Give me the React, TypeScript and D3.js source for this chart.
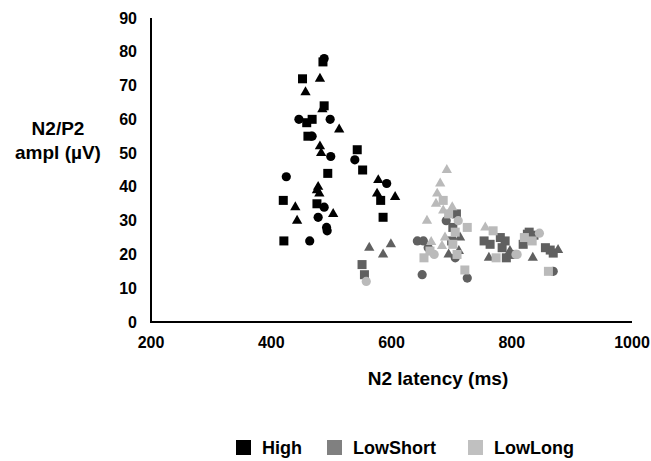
import * as d3 from 'd3';
import * as React from 'react';

type Shape = 'c' | 's' | 't';
type Pt = [number, number, Shape];

// N2 latency (ms), N2/P2 amplitude (µV), marker shape
const highPoints: Pt[] = [
    [488, 78, 'c'], [486, 77, 's'], [452, 72, 's'], [481, 72, 't'], [457, 68, 't'],
    [488, 64, 's'], [485, 63, 't'], [446, 60, 'c'], [468, 60, 's'], [459, 59, 's'],
    [498, 60, 'c'], [513, 57, 't'], [461, 55, 's'], [468, 55, 'c'], [481, 52, 't'],
    [483, 50, 't'], [499, 49, 'c'], [543, 51, 's'], [539, 48, 'c'], [552, 45, 's'],
    [425, 43, 'c'], [494, 44, 's'], [578, 42, 't'], [592, 41, 'c'], [576, 38, 't'],
    [582, 36, 's'], [606, 37, 't'], [586, 31, 's'], [478, 40, 't'], [476, 39, 't'],
    [480, 38, 't'], [420, 36, 's'], [440, 34, 't'], [476, 35, 's'], [488, 34, 'c'],
    [503, 32, 't'], [443, 30, 't'], [478, 31, 'c'], [492, 28, 'c'], [493, 27, 'c'],
    [421, 24, 's'], [464, 24, 'c'],
];

const lowShortPoints: Pt[] = [
    [563, 22, 't'], [599, 23, 't'], [586, 20, 't'], [551, 17, 's'], [555, 14, 's'],
    [708, 32, 's'], [691, 30, 'c'], [702, 28, 's'], [714, 25, 't'], [643, 24, 'c'],
    [653, 24, 'c'], [661, 22, 'c'], [706, 19, 'c'], [651, 14, 'c'], [726, 13, 'c'],
    [712, 21, 't'], [754, 24, 's'], [764, 23, 's'], [762, 19, 't'], [781, 25, 's'],
    [789, 24, 's'], [784, 22, 's'], [791, 19, 's'], [801, 20, 's'], [797, 21, 't'],
    [826, 26, 's'], [819, 23, 's'], [829, 26.6, 's'], [837, 25.7, 's'], [835, 19, 't'],
    [856, 22, 's'], [864, 21.3, 's'], [869, 20.4, 's'], [877, 21.3, 't'], [869, 15, 'c'],
    [700, 24, 's'], [695, 20, 't'],
];

const lowLongPoints: Pt[] = [
    [558, 12, 'c'], [692, 45, 't'], [681, 41, 't'], [676, 38, 't'], [674, 35, 't'],
    [686, 36, 's'], [686, 33, 't'], [701, 34, 't'], [659, 30, 't'], [711, 30, 'c'],
    [726, 28, 's'], [706, 26.6, 's'], [666, 23.7, 't'], [689, 25, 't'], [702, 23, 's'],
    [709, 20, 's'], [684, 22.5, 't'], [654, 19, 's'], [671, 20, 'c'], [664, 21, 's'],
    [722, 15.4, 's'], [756, 28, 't'], [769, 27, 's'], [774, 19, 's'], [807, 20, 'c'],
    [821, 25, 's'], [834, 24, 's'], [846, 26.3, 'c'], [861, 15, 's'], [809, 20, 'c'],
    [695, 32, 's'],
];

const xTicks = [200, 400, 600, 800, 1000];
const yTicks = [0, 10, 20, 30, 40, 50, 60, 70, 80, 90];

const series = [
    { name: 'High', points: highPoints, fill: '#000000', legend: '#000000' },
    { name: 'LowShort', points: lowShortPoints, fill: '#606060', legend: '#808080' },
    { name: 'LowLong', points: lowLongPoints, fill: '#bababa', legend: '#c0c0c0' },
];

const font = '"Liberation Sans", Arial, sans-serif';

const x = d3.scaleLinear().domain([200, 1000]).range([151, 632]);
const y = d3.scaleLinear().domain([0, 90]).range([322, 18]);
const triangle = d3.symbol(d3.symbolTriangle, 46)();

function Marker({ px, py, shape, fill }: { px: number; py: number; shape: Shape; fill: string }) {
    if (shape === 'c') return <circle cx={px} cy={py} r={4.6} fill={fill} />;
    if (shape === 's') return <rect x={px - 4.5} y={py - 4.5} width={9} height={9} fill={fill} />;
    return <path d={triangle ?? ''} transform={`translate(${px},${py})`} fill={fill} />;
}

export default function App() {
    const legendItems = [
        { x: 236, textX: 262 },
        { x: 327, textX: 353 },
        { x: 468, textX: 494 },
    ];
    return (
        <svg
            width={651}
            height={461}
            style={{ position: 'absolute', left: 0, top: 0, background: '#fff' }}
            fontFamily={font}
            fontWeight="bold"
        >
            {/* axes */}
            <line x1={x(200)} x2={x(200)} y1={y(90)} y2={y(0)} stroke="#000" strokeWidth={2} />
            <line x1={x(200) - 1} x2={x(1000)} y1={y(0)} y2={y(0)} stroke="#000" strokeWidth={2} />

            {yTicks.map(t => (
                <text key={t} x={137} y={y(t)} textAnchor="end" dominantBaseline="central" fontSize={16}>
                    {t}
                </text>
            ))}
            {xTicks.map(t => (
                <text key={t} x={x(t)} y={348} textAnchor="middle" fontSize={16}>
                    {t}
                </text>
            ))}

            <text x={438} y={385} textAnchor="middle" fontSize={19}>N2 latency (ms)</text>
            <text x={58} y={135} textAnchor="middle" fontSize={19}>N2/P2</text>
            <text x={58} y={159} textAnchor="middle" fontSize={19}>ampl (µV)</text>

            {/* points */}
            {series.map(s => (
                <g key={s.name}>
                    {s.points.map((p, i) => (
                        <Marker key={i} px={x(p[0])} py={y(p[1])} shape={p[2]} fill={s.fill} />
                    ))}
                </g>
            ))}

            {/* legend */}
            {series.map((s, i) => (
                <g key={s.name}>
                    <rect x={legendItems[i].x} y={440} width={15} height={15} fill={s.legend} />
                    <text x={legendItems[i].textX} y={454} fontSize={18}>{s.name}</text>
                </g>
            ))}
        </svg>
    );
}
